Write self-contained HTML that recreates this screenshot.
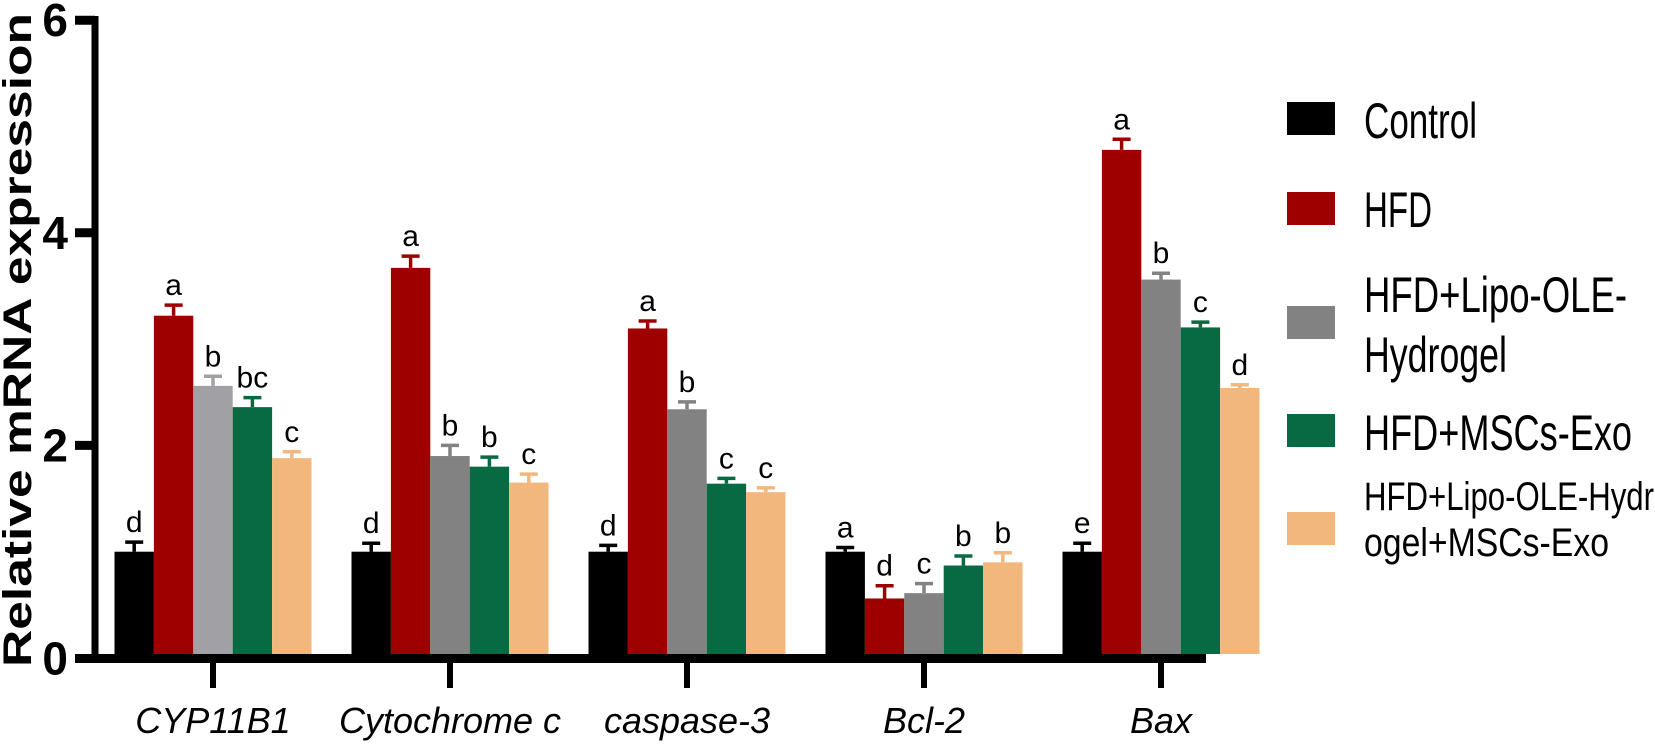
<!DOCTYPE html>
<html><head><meta charset="utf-8"><style>
html,body{margin:0;padding:0;background:#fff;width:1655px;height:747px;overflow:hidden}
svg text{font-family:"Liberation Sans",Arial,sans-serif}
</style></head><body>
<svg id="chart" width="1655" height="747" viewBox="0 0 1655 747" xmlns="http://www.w3.org/2000/svg"></svg>
<script>
const categories = ["CYP11B1","Cytochrome c","caspase-3","Bcl-2","Bax"];
const seriesNames = ["Control","HFD","HFD+Lipo-OLE-Hydrogel","HFD+MSCs-Exo","HFD+Lipo-OLE-Hydrogel+MSCs-Exo"];
const controlVals = [1.0,1.0,1.0,1.0,1.0];
const hfdVals = [3.22,3.67,3.10,0.56,4.78];
const lipoVals = [2.56,1.90,2.34,0.61,3.56];
const exoVals = [2.36,1.80,1.64,0.87,3.11];
const comboVals = [1.88,1.65,1.56,0.90,2.54];
const controlErr = [0.09,0.08,0.06,0.04,0.08];
const hfdErr = [0.10,0.11,0.07,0.12,0.10];
const lipoErr = [0.09,0.10,0.07,0.09,0.06];
const exoErr = [0.09,0.09,0.05,0.09,0.05];
const comboErr = [0.06,0.08,0.04,0.09,0.03];
const controlSig = ["d","d","d","a","e"];
const hfdSig = ["a","a","a","d","a"];
const lipoSig = ["b","b","b","c","b"];
const exoSig = ["bc","b","c","b","c"];
const comboSig = ["c","c","c","b","d"];
const yTicks = [0,2,4,6];

const values=[controlVals,hfdVals,lipoVals,exoVals,comboVals];
const errs=[controlErr,hfdErr,lipoErr,exoErr,comboErr];
const sigs=[controlSig,hfdSig,lipoSig,exoSig,comboSig];
const colors=["#000000","#9e0000","#828282","#076a42","#f2b77c"];
const svg=document.getElementById('chart');
const NS="http://www.w3.org/2000/svg";
const y0=658, unit=106.3;
function yScale(v){return y0-v*unit;}
const c0=213, step=237, bw=39.4;
function xCenter(i){return c0+i*step;}
function mk(tag,attrs,parent){const e=document.createElementNS(NS,tag);for(const k in attrs)e.setAttribute(k,attrs[k]);(parent||svg).appendChild(e);return e;}

for(let s=0;s<5;s++){
  for(let i=0;i<categories.length;i++){
    const col=(s===2&&i===0)?"#a1a1a5":colors[s];
    const v=values[s][i], x=xCenter(i)+(s-2.5)*bw, top=yScale(v);
    const r=mk('rect',{x:x,y:top,width:bw,height:654-top,fill:col});
    
    
    const ex=x+bw/2, et=yScale(v+errs[s][i]);
    const l=mk('path',{d:`M${ex},${top} V${et} M${ex-9},${et} H${ex+9}`,stroke:col,'stroke-width':3.5,fill:'none'});
    
    
    const t=mk('text',{x:ex,y:et-10,'font-size':30,'text-anchor':'middle',fill:'#000'});
    t.textContent=sigs[s][i];
    
    
  }
}
const ya=mk('line',{x1:95,y1:16,x2:95,y2:663,stroke:'#000','stroke-width':7});


const xa=mk('line',{x1:75,y1:658.5,x2:1206,y2:658.5,stroke:'#000','stroke-width':9});


for(const t of yTicks){
  const y=t===0?658.5:yScale(t);
  const tk=mk('line',{x1:75,y1:y,x2:95,y2:y,stroke:'#000','stroke-width':t===0?9:9});
  
  
  const tl=mk('text',{x:68,y:y+16,'font-size':46,'font-weight':'bold','text-anchor':'end',fill:'#000'});
  tl.textContent=t;
  
  
}
for(let i=0;i<categories.length;i++){
  const x=xCenter(i);
  const tk=mk('line',{x1:x,y1:660,x2:x,y2:688,stroke:'#000','stroke-width':6});
  
  
  const tl=mk('text',{x:x,y:733,'font-size':36,'font-style':'italic','text-anchor':'middle',fill:'#000'});
  tl.textContent=categories[i];
  
  
}
const yt=mk('text',{x:0,y:0,'font-size':40,'font-weight':'bold','text-anchor':'middle',fill:'#000',transform:'translate(31,340) rotate(-90)',textLength:654,lengthAdjust:'spacingAndGlyphs'});
yt.textContent="Relative mRNA expression";



const leg=[
 {sy:102,lines:[["Control",138,113,50]]},
 {sy:192,lines:[["HFD",227,68,50]]},
 {sy:306,lines:[["HFD+Lipo-OLE-",312,263,50],["Hydrogel",372,143,50]]},
 {sy:414,lines:[["HFD+MSCs-Exo",450,268,50]]},
 {sy:512,lines:[["HFD+Lipo-OLE-Hydr",510,290,40],["ogel+MSCs-Exo",556,245,40]]}
];
leg.forEach((L,s)=>{
  const g=mk('g',{});
  
  
  const r=mk('rect',{x:1287,y:L.sy,width:48,height:33,fill:colors[s]},g);
  
  
  L.lines.forEach(ln=>{
    const t=mk('text',{x:1364,y:ln[1],'font-size':ln[3],fill:'#000',textLength:ln[2],lengthAdjust:'spacingAndGlyphs'},g);
    t.textContent=ln[0];
    
    
  });
});
</script>
</body></html>
